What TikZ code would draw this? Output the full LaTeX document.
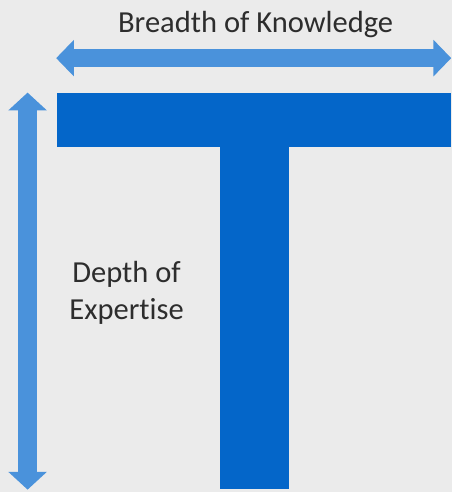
\documentclass[tikz,border=0pt]{standalone}
\usepackage{fontspec}
\setmainfont{Carlito}[Ligatures=NoCommon]
\usepackage{xcolor}
\definecolor{paper}{RGB}{235,235,235}
\definecolor{tblue}{RGB}{4,102,201}
\definecolor{arrowblue}{RGB}{74,146,219}
\definecolor{inkgray}{RGB}{45,45,45}
\usetikzlibrary{arrows.meta}

\begin{document}
\begin{tikzpicture}[x=1pt, y=-1pt,
    caption/.style={text=inkgray, font=\fontsize{31}{37}\selectfont, inner sep=0pt, align=center},
    span/.style={draw=arrowblue, line width=#1,
      {Triangle[length=18pt, width=2*#1]}-{Triangle[length=18pt, width=2*#1]}}]
    \fill[paper] (0, 0) rectangle (459, 499);
    % the T
    \fill[tblue] (58, 94) rectangle (458, 149);
    \fill[tblue] (223, 148) rectangle (293, 496);
    % arrows
    \coordinate (breadthL) at (57, 59);
    \coordinate (breadthR) at (458, 59);
    \coordinate (depthT) at (28, 94);
    \coordinate (depthB) at (28, 497);
    \draw[span=18pt] (breadthL) -- (breadthR);
    \draw[span=19pt] (depthT) -- (depthB);
    % labels
    \node[caption, anchor=base] (breadth) at (259.5, 33) {Breadth of Knowledge};
    \node[caption, anchor=base] (depth) at (128.5, 324) {Depth of\\Expertise};
\end{tikzpicture}
\end{document}
